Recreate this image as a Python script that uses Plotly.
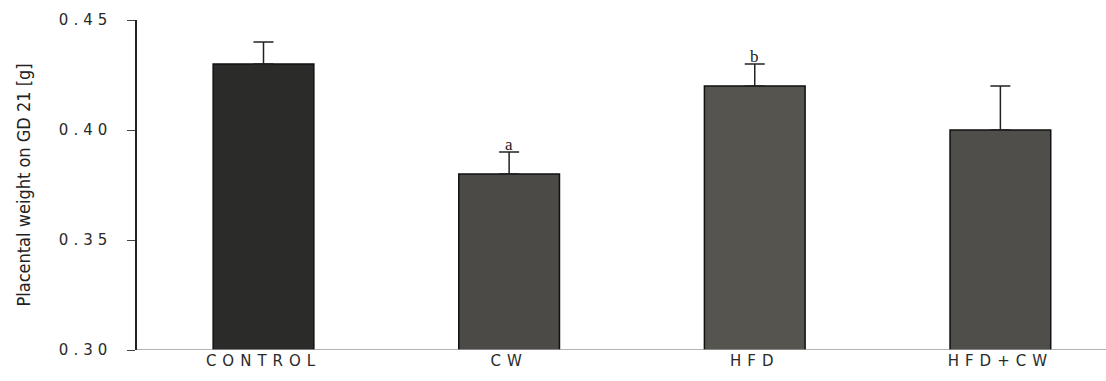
import plotly.graph_objects as go

categories = ["CONTROL", "CW", "HFD", "HFD+CW"]
values = [0.43, 0.38, 0.42, 0.40]
errors = [0.01, 0.01, 0.01, 0.02]
bar_colors = ["#2b2b2a", "#4b4a47", "#55544f", "#4f4e4a"]
sig_labels = ["", "a", "b", ""]
y_ticks = [0.30, 0.35, 0.40, 0.45]
y_tick_text = ["0.30", "0.35", "0.40", "0.45"]

fig = go.Figure()
fig.add_trace(go.Bar(
    x=categories, y=values,
    marker=dict(color=bar_colors, line=dict(color="#111111", width=1.5)),
    width=0.41,
    error_y=dict(type="data", symmetric=False, array=errors, arrayminus=[0]*4,
                 color="#222222", thickness=1.5, width=10),
))
for c, v, e, s in zip(categories, values, errors, sig_labels):
    if s:
        fig.add_annotation(x=c, y=v + e, text=s, showarrow=False, yanchor="bottom",
                           yshift=-4, font=dict(family="Liberation Serif", size=17, color="#222"))

fig.update_layout(
    width=1106, height=381,
    margin=dict(l=137, r=0, t=20, b=31),
    paper_bgcolor="white", plot_bgcolor="white",
    showlegend=False,
    bargap=0.59,
)
fig.update_xaxes(
    range=[-0.515, 3.43], showgrid=False, showline=False, ticks="",
    tickfont=dict(family="DejaVu Sans", size=15, color="#2a2a2a"),
    zeroline=False,
)
fig.update_yaxes(
    range=[0.30, 0.45], tickvals=y_ticks, ticktext=y_tick_text,
    showgrid=False, zeroline=False, showline=True, linecolor="#222", linewidth=1.5,
    ticks="outside", ticklen=8, tickcolor="#444", tickwidth=1,
    ticklabelstandoff=12,
    tickfont=dict(family="DejaVu Sans", size=15, color="#2a2a2a"),
    title=dict(text="Placental weight on GD 21 [g]",
               font=dict(family="Liberation Sans Narrow, DejaVu Sans Condensed", size=18, color="#222"),
               standoff=44),
)
fig.add_shape(type="line", xref="paper", yref="y", x0=0, x1=1, y0=0.30, y1=0.30,
              line=dict(color="#9a9a9a", width=1.5))

post = """
document.body.style.margin = '0';
var gd = document.getElementById('{plot_id}');
function spaceTicks(){
  gd.querySelectorAll('.xtick text').forEach(function(t){ t.style.letterSpacing = '6px'; });
  gd.querySelectorAll('.ytick text').forEach(function(t){ t.style.letterSpacing = '5px'; });
}
spaceTicks();
gd.on('plotly_afterplot', spaceTicks);
"""
fig.write_html("out.html", post_script=post, config={"displayModeBar": False})
